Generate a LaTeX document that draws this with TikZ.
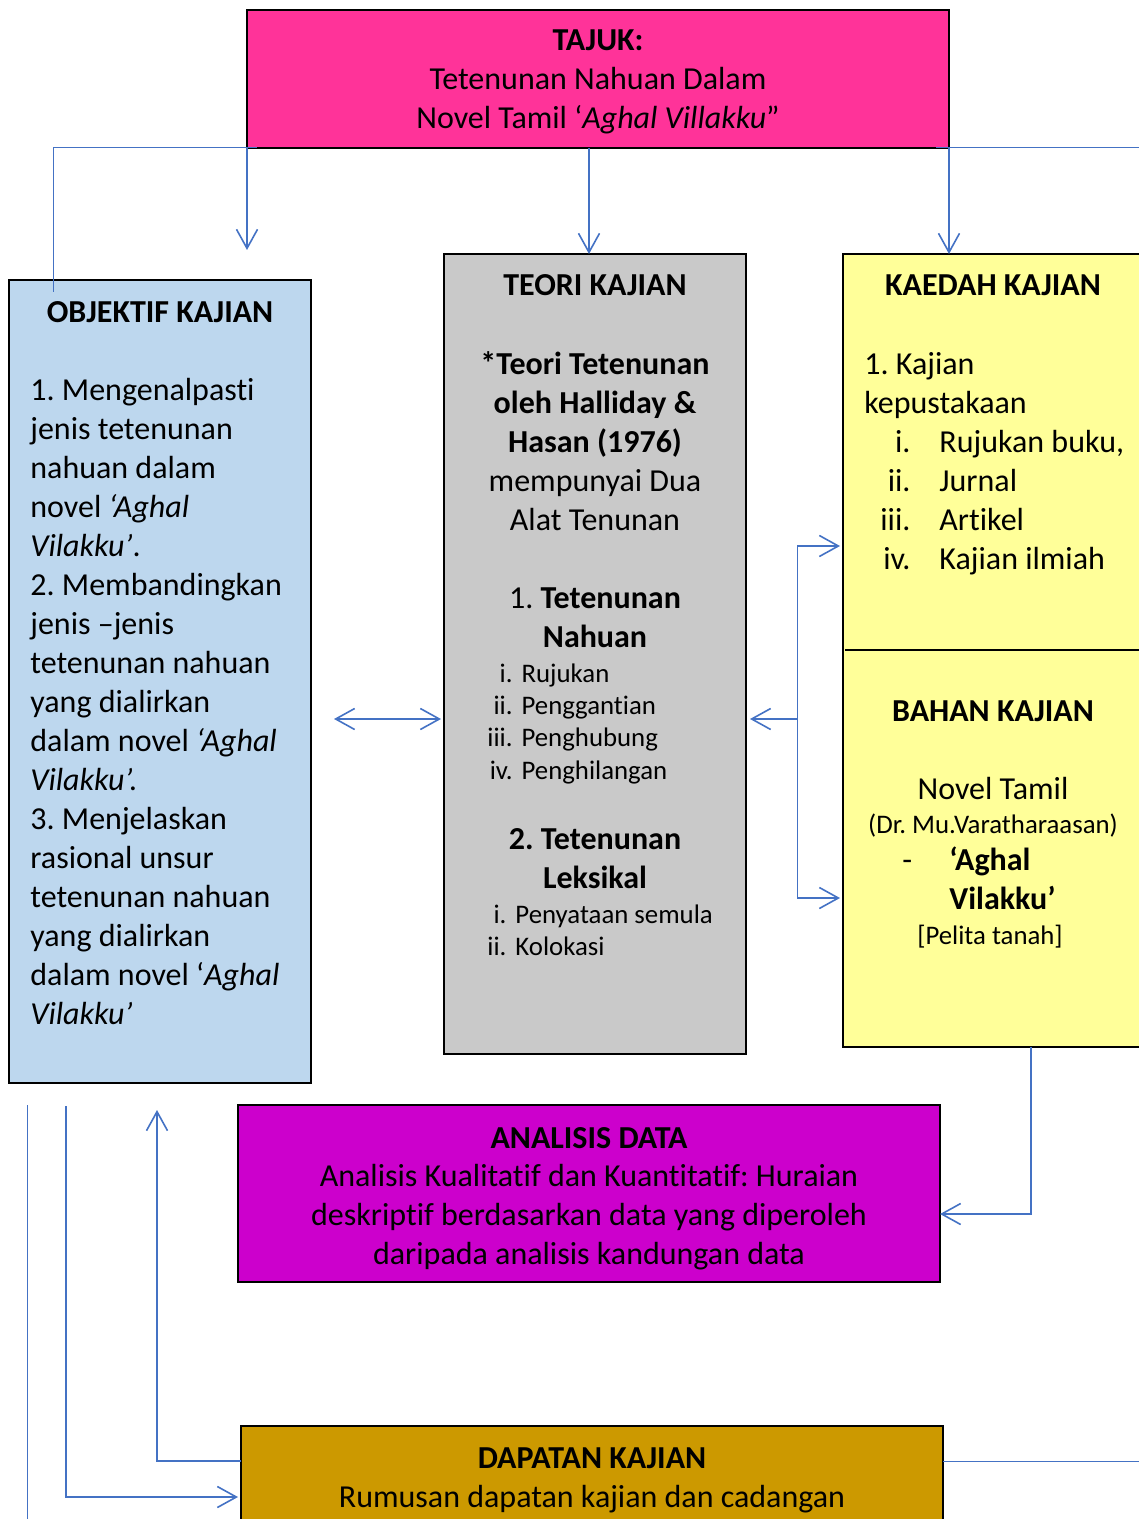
\documentclass[tikz,border=0pt]{standalone}
\usepackage{fontspec}
\setmainfont{Carlito}[Ligatures={NoCommon}]
\frenchspacing
\usetikzlibrary{arrows.meta}
\definecolor{tajukpink}{HTML}{FF3399}
\definecolor{objblue}{HTML}{BDD7EE}
\definecolor{teorigray}{HTML}{C9C9C9}
\definecolor{kaedahyellow}{HTML}{FFFF99}
\definecolor{analisispurple}{HTML}{CC00CC}
\definecolor{dapatangold}{HTML}{CC9900}
\definecolor{linkblue}{HTML}{4472C4}
\begin{document}
\begin{tikzpicture}[x=0.5pt, y=-0.5pt,
  box/.style={draw, line width=1.1pt, inner sep=0pt, outer sep=0pt},
  arr/.style={draw=linkblue, line width=0.8pt, -{Straight Barb[length=9.5pt,width=10.5pt]}},
  dblarr/.style={draw=linkblue, line width=0.8pt, {Straight Barb[length=9.5pt,width=10.5pt]}-{Straight Barb[length=9.5pt,width=10.5pt]}},
  thinline/.style={draw=linkblue, line width=0.5pt},
  txt/.style={inner sep=0pt, font=\fontsize{16}{19.5}\selectfont},
  small/.style={inner sep=0pt, font=\fontsize{13.4}{16.1}\selectfont}]
\useasboundingbox (0,0) rectangle (1139,1519);

\node[box, fill=tajukpink, minimum width=351pt, minimum height=69pt] (tajuk) at (598,79) {};
\node[box, fill=objblue, minimum width=151pt, minimum height=401.5pt] (objektif) at (160,681.5) {};
\node[box, fill=teorigray, minimum width=151pt, minimum height=400pt] (teori) at (595,654) {};
\node[box, fill=kaedahyellow, minimum width=153.5pt, minimum height=396.5pt] (kaedah) at (996.5,650.5) {};
\node[box, fill=analisispurple, minimum width=351pt, minimum height=88.5pt] (analisis) at (589,1193.5) {};
\node[box, fill=dapatangold, minimum width=351pt, minimum height=57pt] (dapatan) at (592,1483) {};
\coordinate (divy) at (0,650);
\draw[line width=1.1pt] ([xshift=1pt]kaedah.west |- divy) -- (kaedah.east |- divy);

\node[txt, align=center, anchor=north] (tajuktxt) at (598,22.7) {\strut\textbf{TAJUK:}\\Tetenunan Nahuan Dalam\\Novel Tamil ‘\textit{Aghal Villakku}”};

\node[txt, anchor=base] (objtitle) at (160,322) {\textbf{OBJEKTIF KAJIAN}};
\node[txt, align=left, anchor=north west] (objtxt) at (30,372.7) {\strut 1. Mengenalpasti\\jenis tetenunan\\nahuan dalam\\novel \textit{‘Aghal}\\\textit{Vilakku’}.\\2. Membandingkan\\jenis –jenis\\tetenunan nahuan\\yang dialirkan\\dalam novel \textit{‘Aghal}\\\textit{Vilakku’.}\\3. Menjelaskan\\rasional unsur\\tetenunan nahuan\\yang dialirkan\\dalam novel ‘\textit{Aghal}\\\textit{Vilakku’}};

\node[txt, anchor=base] (teorititle) at (595,296) {\textbf{TEORI KAJIAN}};
\node[txt, align=center, anchor=north] (teoritxt) at (595,346.7) {\strut\textbf{*Teori Tetenunan}\\\textbf{oleh Halliday \&}\\\textbf{Hasan (1976)}\\mempunyai Dua\\Alat Tenunan};
\node[txt, align=center, anchor=north] (nahuan) at (595,580.7) {\strut 1. \textbf{Tetenunan}\\\textbf{Nahuan}};
\node[small, anchor=north west] (nahuanlist) at (487,659.5) {\begin{tabular}{@{}r@{\hspace{4.5pt}}l@{}}i. & Rujukan\\ii. & Penggantian\\iii. & Penghubung\\iv. & Penghilangan\end{tabular}};
\node[txt, align=center, anchor=north] (leksikal) at (595,821.7) {\strut\textbf{2. Tetenunan}\\\textbf{Leksikal}};
\node[small, anchor=north west] (leksikallist) at (487,900.5) {\begin{tabular}{@{}r@{\hspace{4.5pt}}l@{}}i. & Penyataan semula\\ii. & Kolokasi\end{tabular}};

\node[txt, anchor=base] (kaedahtitle) at (993,296) {\textbf{KAEDAH KAJIAN}};
\node[txt, align=left, anchor=north west] (kaedahtxt) at (864,346.7) {\strut 1. Kajian\\kepustakaan};
\node[txt, anchor=north west] (kaedahlist) at (880,424.7) {\begin{tabular}{@{}r@{\hspace{14.5pt}}l@{}}i. & Rujukan buku,\\ii. & Jurnal\\iii. & Artikel\\iv. & Kajian ilmiah\end{tabular}};

\node[txt, anchor=base] (bahantitle) at (993,721) {\textbf{BAHAN KAJIAN}};
\node[txt, anchor=base] (novel) at (993,799) {Novel Tamil};
\node[small, anchor=base] (penulis) at (993,833) {(Dr. Mu.Varatharaasan)};
\node[txt, anchor=base west] (dash) at (902,870) {-};
\node[txt, align=left, anchor=north west] (judul) at (949,842.7) {\strut\textbf{‘Aghal}\\\textbf{Vilakku’}};
\node[small, anchor=base] (pelita) at (990,944) {[Pelita tanah]};

\node[txt, anchor=base] (analisistitle) at (589,1148) {\textbf{ANALISIS DATA}};
\node[txt, align=center, anchor=north] (analisistxt) at (589,1158.7) {\strut Analisis Kualitatif dan Kuantitatif: Huraian\\deskriptif berdasarkan data yang diperoleh\\daripada analisis kandungan data};

\node[txt, anchor=base] (dapatantitle) at (592,1468) {\textbf{DAPATAN KAJIAN}};
\node[txt, anchor=base] (dapatantxt) at (592,1507) {Rumusan dapatan kajian dan cadangan};

\coordinate (objcorner) at (53,292);
\coordinate (objarr) at (247,250);
\coordinate (redge) at (1139,148);
\coordinate (ol) at (334,719);
\coordinate (tl) at (441,719);
\coordinate (bx) at (797,719);
\coordinate (kt) at (797,546);
\coordinate (kb) at (797,898);
\coordinate (kd) at (1031,1214);
\coordinate (l1) at (27,1105);
\coordinate (l1b) at (27,1519);
\coordinate (l2) at (66,1106);
\coordinate (l2b) at (66,1497);
\coordinate (up) at (157,1461);
\coordinate (upend) at (157,1110);
\coordinate (bedge) at (1139,1461);

\draw[thinline] (objcorner) |- ([xshift=5pt]tajuk.south west);
\draw[arr] (tajuk.south west) -- (objarr);
\draw[arr] ([xshift=-4.5pt]tajuk.south) -- ([xshift=-3pt]teori.north);
\draw[arr] (tajuk.south east) -- (tajuk.south east |- kaedah.north);
\draw[thinline] ([xshift=-6.5pt]tajuk.south east) -- (redge);
\draw[dblarr] (ol) -- (tl);
\draw[arr] (bx) -- ([xshift=2pt]bx -| teori.east);
\draw[thinline] (kt) -- (kb);
\draw[arr] (kt) -- ([xshift=-1.5pt]kt -| kaedah.west);
\draw[arr] (kb) -- ([xshift=-1.5pt]kb -| kaedah.west);
\draw[arr] (kaedah.south -| kd) -- (kd) -- (kd -| analisis.east);
\draw[thinline] (l1) -- (l1b);
\draw[arr] (l2) -- (l2b) -- ([xshift=-1.5pt]l2b -| dapatan.west);
\draw[arr] (up -| dapatan.west) -- (up) -- (upend);
\draw[thinline] (dapatan.east |- up) -- (bedge);
\end{tikzpicture}
\end{document}
